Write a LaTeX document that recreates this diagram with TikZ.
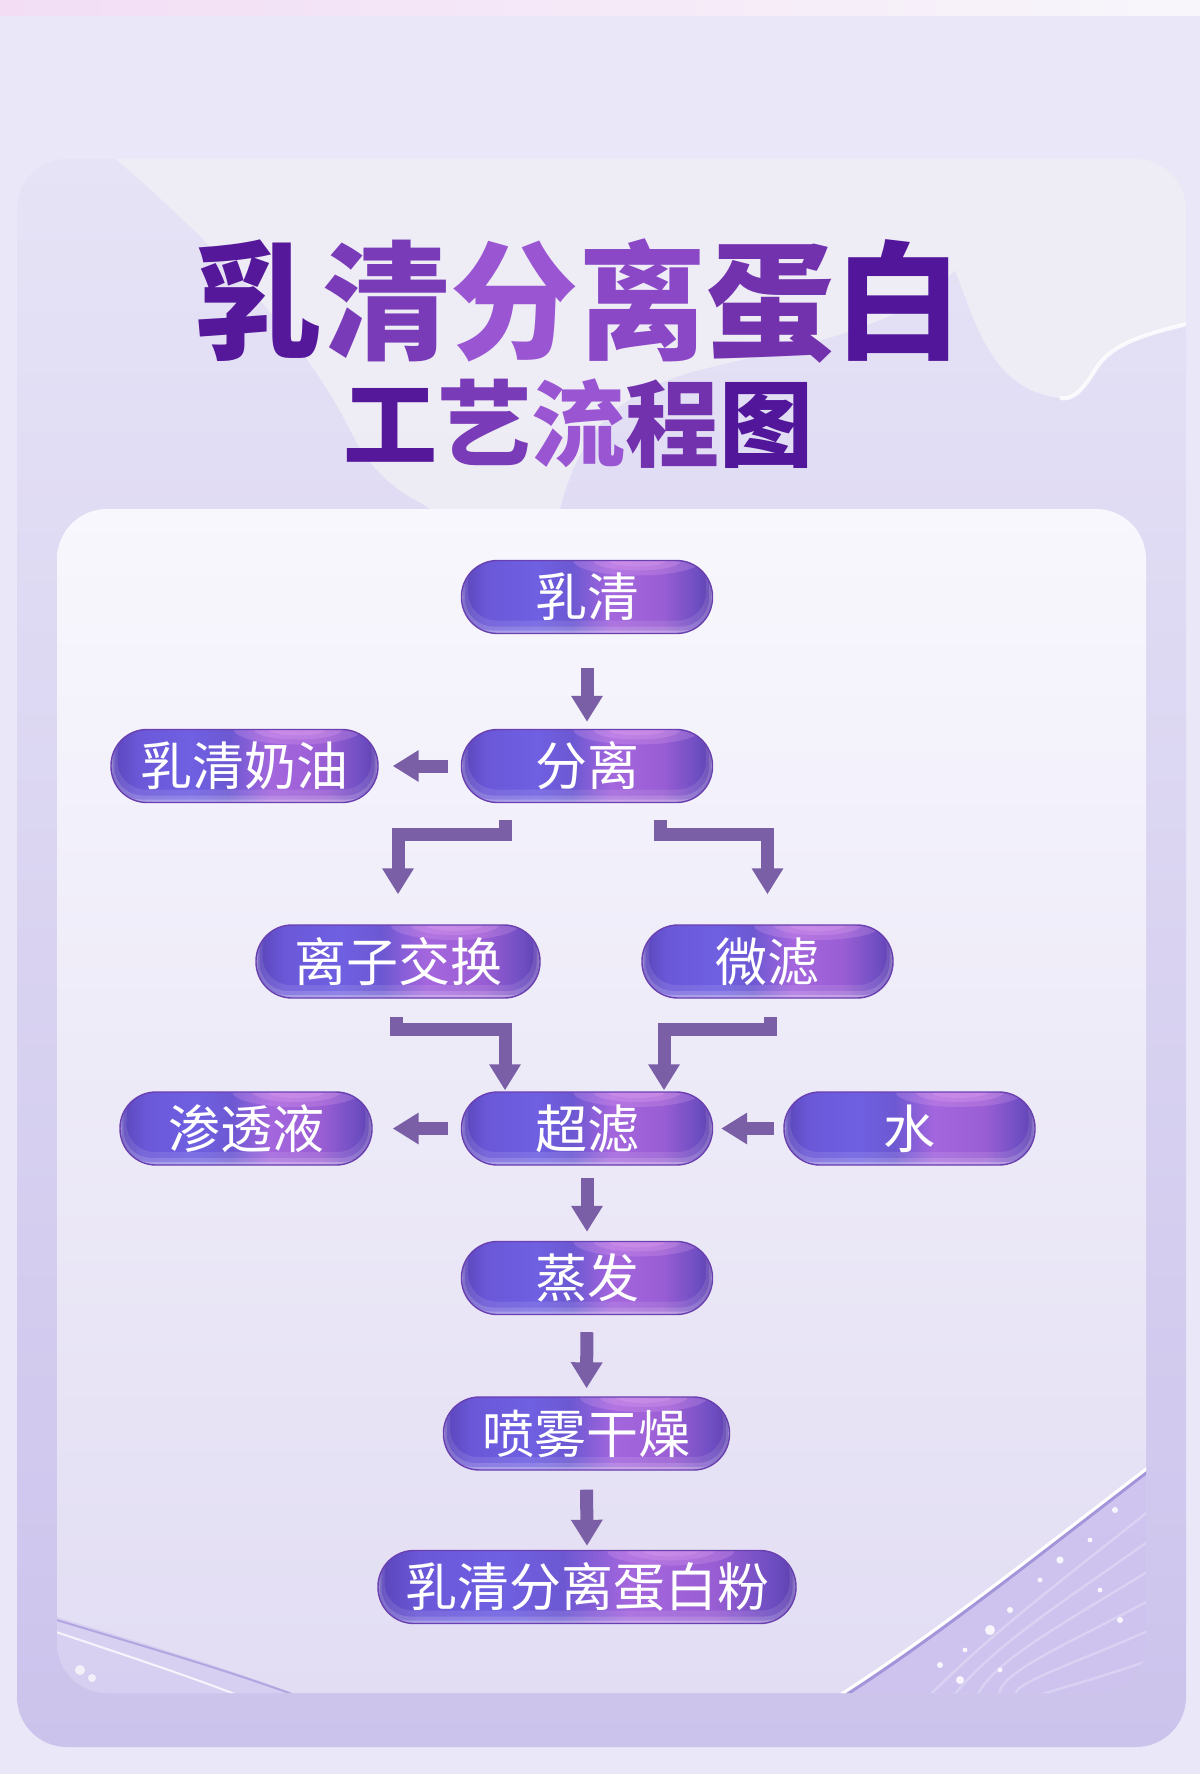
\documentclass[tikz,border=0pt]{standalone}
\usepackage{fontspec}
\newfontfamily\cjk{Noto Sans CJK SC}
\usetikzlibrary{arrows.meta,calc}

\definecolor{bg}{HTML}{E9E7F8}
\definecolor{stripL}{HTML}{F2DDF5}
\definecolor{stripR}{HTML}{F8F6FB}
\definecolor{cardtop}{HTML}{E6E3F6}
\definecolor{cardbot}{HTML}{CCC3EC}
\definecolor{paneltop}{HTML}{F8F7FD}
\definecolor{panelbot}{HTML}{E2DDF3}
\definecolor{milk}{HTML}{F1F0F5}
\definecolor{swoosh}{HTML}{CBBFEF}
\definecolor{swooshedge}{HTML}{A495DA}
\definecolor{flowc}{HTML}{7A5FA6}
\definecolor{pA}{HTML}{5A44B8}
\definecolor{pB}{HTML}{6A58D8}
\definecolor{pC}{HTML}{6F60E2}
\definecolor{pD}{HTML}{6C58D2}
\definecolor{pE}{HTML}{A466DD}
\definecolor{pF}{HTML}{9A5ED4}
\definecolor{pG}{HTML}{6E4EC2}
\definecolor{pH}{HTML}{5E40AE}
\definecolor{pink}{HTML}{F2B4F6}
\definecolor{pborder}{HTML}{6A3FB0}
\definecolor{tA}{HTML}{55189B}
\definecolor{tB}{HTML}{7A3BB8}
\definecolor{tC}{HTML}{9A56D2}
\definecolor{tD}{HTML}{8A47C6}
\definecolor{tE}{HTML}{7232AE}
\definecolor{tF}{HTML}{52169A}

\pgfdeclarehorizontalshading{pillshade}{100bp}{color(0bp)=(pA); color(25bp)=(pA); color(30bp)=(pB); color(40bp)=(pC); color(47bp)=(pD); color(55bp)=(pE); color(65bp)=(pF); color(72bp)=(pG); color(75bp)=(pH); color(100bp)=(pH)}

\tikzset{
  pill/.style={rectangle, rounded corners=18pt, minimum height=36.5pt, inner sep=0pt,
    text=white, font=\cjk\fontsize{26pt}{26pt}\selectfont,
    shading=pillshade, draw=pborder, line width=0.7pt,
    path picture={
      \foreach \rx/\ry in {14pt/3pt, 22pt/5pt, 32pt/7.5pt}{
        \fill[pink, opacity=0.2] ($(path picture bounding box.north west)!0.7!(path picture bounding box.north east)$) ellipse [x radius=\rx, y radius=\ry];
      }
      \foreach \d/\o in {1.5pt/0.25,3.5pt/0.15,6.5pt/0.1}{
        \fill[white, opacity=\o, even odd rule]
          ($(path picture bounding box.south west)+(-3pt,-3pt)$) rectangle ($(path picture bounding box.north east)+(3pt,3pt)$)
          [rounded corners=14pt] ($(path picture bounding box.south west)+({0.5*\d},\d)$) rectangle ($(path picture bounding box.north east)+({-0.5*\d},3pt)$);
      }
    }},
  flow/.style={draw=flowc, line width=6.5pt, line join=miter, -{Triangle[width=15pt,length=13pt]}},
  titletext/.style={font=\cjk\bfseries\fontsize{64pt}{64pt}\selectfont, inner sep=0pt},
  subtext/.style={font=\cjk\bfseries\fontsize{47pt}{47pt}\selectfont, inner sep=0pt}
}

\begin{document}
\begin{tikzpicture}[x=0.5pt, y=-0.5pt]
\useasboundingbox (0,0) rectangle (1200,1774);
% background
\fill[bg] (0,0) rectangle (1200,1774);
\shade[left color=stripL, right color=stripR] (0,0) rectangle (1200,15);
% outer card
\shade[top color=cardtop, bottom color=cardbot, rounded corners=25pt] (17,159) rectangle (1186,1747);
% milk splash
\begin{scope}
  \clip[rounded corners=25pt] (17,159) rectangle (1186,1747);
  \fill[milk, opacity=0.8] (105,150) -- (1195,150) -- (1195,322)
     .. controls (1140,335) and (1110,345) .. (1095,370)
     .. controls (1080,395) and (1070,400) .. (1060,398)
     .. controls (990,390) and (975,320) .. (955,270)
     .. controls (900,330) and (800,345) .. (700,370)
     .. controls (620,390) and (580,430) .. (560,509)
     -- (430,509) .. controls (420,500) and (380,490) .. (350,430)
     .. controls (300,330) and (200,230) .. (105,150) -- cycle;
  \draw[white, line width=2pt, opacity=0.8] (1195,322)
     .. controls (1140,335) and (1110,345) .. (1095,370)
     .. controls (1080,395) and (1070,400) .. (1060,398);
\end{scope}
% inner panel
\shade[top color=paneltop, bottom color=panelbot, rounded corners=25pt] (57,509) rectangle (1146,1693);
\begin{scope}
  \clip[rounded corners=25pt] (57,509) rectangle (1146,1693);
  % right glassy swoosh
  \fill[swoosh, opacity=0.85] (1150,1468) .. controls (1030,1560) and (930,1640) .. (835,1700) -- (1150,1700) -- cycle;
  \foreach \k in {1,...,6}{
    \draw[white, opacity=0.25, line width=1.2pt] ({1150},{1480+\k*30}) .. controls ({1060},{1560+\k*22}) and ({990},{1620+\k*14}) .. ({900+\k*25},{1700});
  }
  \draw[swooshedge, line width=1.5pt] (1150,1470) .. controls (1030,1562) and (930,1642) .. (838,1700);
  \draw[white, line width=1.5pt] (1150,1466) .. controls (1030,1558) and (930,1638) .. (832,1700);
  \foreach \px/\py/\r in {1115/1510/1.5, 1090/1540/1.2, 1060/1560/1.8, 1040/1580/1.2, 1010/1610/1.5, 990/1630/2.5, 965/1650/1.2, 960/1680/2, 1100/1590/1.2, 1120/1620/1.5, 1000/1670/1.2, 940/1665/1.5}{
    \fill[white, opacity=0.85] (\px,\py) circle (\r pt);
  }
  % left swoosh
  \fill[swoosh, opacity=0.45] (50,1615) .. controls (150,1645) and (240,1672) .. (310,1700) -- (50,1700) -- cycle;
  \draw[swooshedge, opacity=0.7, line width=1pt] (50,1618) .. controls (150,1648) and (240,1674) .. (308,1700);
  \draw[white, opacity=0.8, line width=1pt] (50,1630) .. controls (140,1660) and (200,1680) .. (250,1700);
  \fill[white, opacity=0.7] (80,1670) circle (2.5pt);
  \fill[white, opacity=0.7] (92,1678) circle (2pt);
\end{scope}

% titles
\node[titletext] (title) at (578.5,301) {\color{tA}乳\color{tB}清\color{tC}分\color{tD}离\color{tE}蛋\color{tF}白};
\node[subtext] (subtitle) at (578.5,424) {\color{tA}工\color{tB}艺\color{tC}流\color{tE}程\color{tF}图};

% nodes
\node[pill, minimum width=125.5pt] (rq) at (587,597) {乳清};
\node[pill, minimum width=125.5pt] (fl) at (587,766) {分离};
\node[pill, minimum width=133.5pt] (rqny) at (244.5,766) {乳清奶油};
\node[pill, minimum width=142pt] (lzjh) at (398,961.5) {离子交换};
\node[pill, minimum width=125.5pt] (wl) at (767.5,961.5) {微滤};
\node[pill, minimum width=126pt] (stl) at (246,1128.5) {渗透液};
\node[pill, minimum width=125.5pt] (cl) at (587,1128.5) {超滤};
\node[pill, minimum width=125.5pt] (sh) at (909.5,1128.5) {水};
\node[pill, minimum width=125.5pt] (zf) at (587,1278) {蒸发};
\node[pill, minimum width=143pt] (pw) at (586.5,1433.5) {喷雾干燥};
\node[pill, minimum width=209pt] (fen) at (587,1587) {乳清分离蛋白粉};

\coordinate (clinL) at ($(cl.north)+(-82,0)$);
\coordinate (clinR) at ($(cl.north)+(77,0)$);

% connectors
\draw[flow, shorten <=17pt, shorten >=3.5pt] (rq.south) -- (fl.north);
\draw[flow, shorten <=6.5pt, shorten >=7pt] (fl.west) -- (rqny.east);
\draw[flow, shorten >=15pt] ($(fl.south)+(-82,17)$) -- ++(0,14) -| (lzjh.north);
\draw[flow, shorten >=15pt] ($(fl.south)+(73,17)$) -- ++(0,14) -| (wl.north);
\draw[flow, shorten >=0.5pt] ($(lzjh.south)+(-2,18)$) -- ++(0,13) -| (clinL);
\draw[flow, shorten >=0.5pt] ($(wl.south)+(3,18)$) -- ++(0,13) -| (clinR);
\draw[flow, shorten <=6.5pt, shorten >=10pt] (cl.west) -- (stl.east);
\draw[flow, shorten <=4.5pt, shorten >=4pt] (sh.west) -- (cl.east);
\draw[flow, shorten <=6pt, shorten >=4.5pt] (cl.south) -- (zf.north);
\draw[flow, shorten <=8.5pt, shorten >=4pt] (zf.south) -- (pw.north);
\draw[flow, shorten <=9.5pt, shorten >=2pt] (pw.south) -- (fen.north);
\end{tikzpicture}
\end{document}
